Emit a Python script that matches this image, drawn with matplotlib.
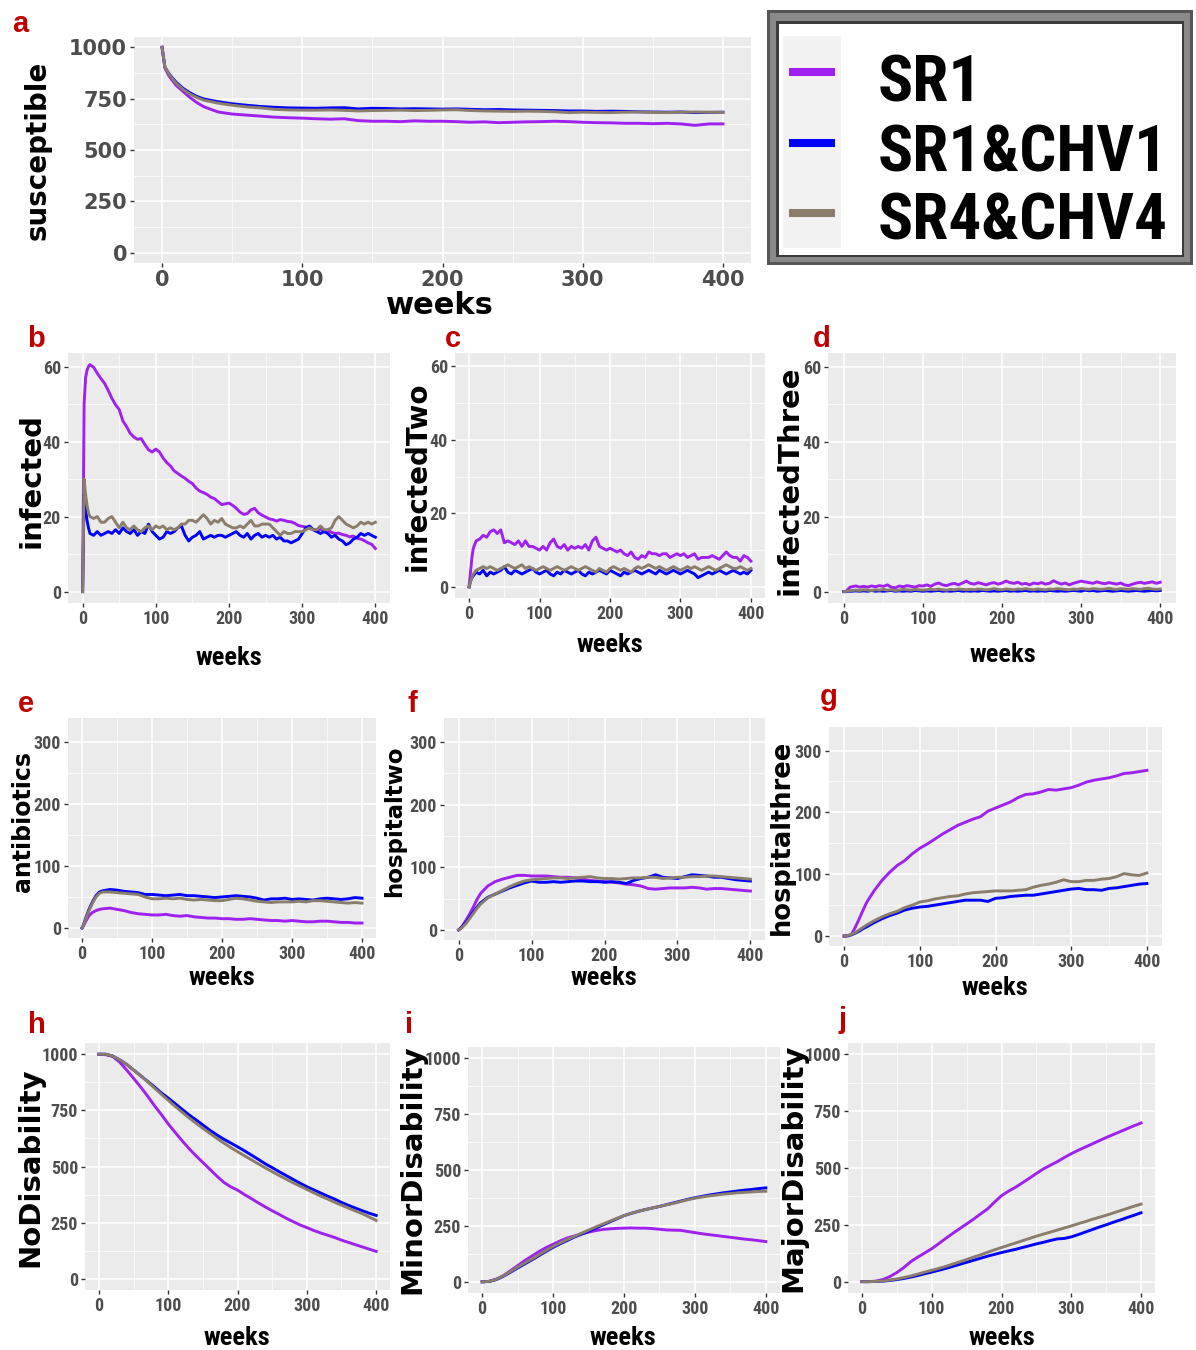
import matplotlib
matplotlib.use("Agg")
import matplotlib.pyplot as plt
from matplotlib.ticker import MultipleLocator
from matplotlib.patches import Rectangle

# -----------------------------
# 1. Data
# -----------------------------
weeks_fine = [0, 2, 4, 6, 8] + list(range(10, 401, 5))
weeks_mid = [0, 2, 5, 10, 15, 20, 25, 30] + list(range(40, 401, 10))
weeks_smooth = list(range(0, 401, 10))

scenarios = ["SR1", "SR1&CHV1", "SR4&CHV4"]
colors = ["#a020f0", "#0000ff", "#8b7d6b"]

# susceptible (weeks_mid)
susceptible_sr1 = [1000, 900, 860, 815, 785, 755, 730, 710,
                   685, 675, 670, 665, 660, 657, 655, 652, 650, 652,
                   643, 640, 640, 638, 642, 640, 640, 638, 635, 637,
                   633, 635, 637, 638, 640, 638, 635, 633, 632, 630,
                   630, 628, 630, 627, 620, 627, 627]
susceptible_chv1 = [1000, 905, 870, 830, 800, 778, 760, 748,
                    735, 725, 718, 712, 708, 705, 704, 703, 705, 706,
                    700, 703, 702, 700, 701, 700, 699, 700, 698, 696,
                    697, 695, 694, 693, 692, 690, 690, 688, 689, 688,
                    686, 685, 684, 685, 682, 683, 684]
susceptible_chv4 = [1000, 905, 868, 825, 795, 772, 755, 742,
                    728, 718, 710, 705, 698, 695, 694, 694, 695, 693,
                    690, 692, 693, 694, 692, 693, 695, 696, 692, 690,
                    689, 688, 689, 688, 686, 682, 684, 683, 682, 684,
                    685, 683, 682, 684, 685, 684, 683]

# infected (weeks_fine)
infected_sr1 = [0, 50, 57, 59, 60,
                60.5, 59.8, 58.2, 56.8, 55.5, 53.6, 51.5, 49.8, 48.5, 45.5,
                44, 42.2, 41.2, 40.6, 40.8, 39.2, 37.8, 37.2, 38, 37.2,
                35.6, 34.4, 33.5, 32.2, 31.5, 30.8, 30.2, 29.4, 28.8, 27.6,
                26.8, 26.4, 25.9, 25.2, 24.8, 24, 23.2, 23.4, 23.6, 23,
                22.2, 21.2, 20.6, 20.8, 21.8, 22.2, 21, 20.4, 19.9, 19.4,
                19.2, 18.8, 19.2, 19, 18.7, 18.6, 18.2, 17.6, 17.4, 17.2,
                16.8, 16.6, 16.4, 16.6, 16.2, 16.4, 15.8, 15.5, 15.6, 15.2,
                15, 14.6, 14.8, 14.2, 14, 13.6, 13, 12.6, 11.5]
infected_chv1 = [0, 26, 22, 19, 17,
                 15.5, 15, 16, 15, 15.5, 16, 15.5, 16.5, 15.5, 17,
                 16, 15.5, 16.5, 15, 16, 15.5, 18, 16, 15, 14,
                 14.5, 16, 15.5, 16, 17, 17.5, 15, 13.5, 14.5, 15,
                 16, 14, 14.5, 15, 14.5, 15, 15, 14.5, 15, 15.5,
                 16, 15, 14.5, 15.5, 14, 15, 15.5, 14.5, 15, 14.5,
                 15, 14, 14.5, 13.5, 13.5, 13, 13.5, 14, 15.5, 17,
                 17.5, 16.5, 16, 15.5, 16, 15.5, 14.5, 15, 14, 13.5,
                 12.5, 13, 14, 14.5, 15.5, 15, 15.5, 15, 14.5]
infected_chv4 = [0, 30, 26, 23, 21,
                 20, 19.5, 20, 18.5, 18.5, 19.5, 20, 18.5, 17, 18.5,
                 17, 16.5, 17.5, 16.5, 16, 17, 17.5, 16.5, 17.5, 17,
                 17.5, 16.5, 17, 16.5, 17, 18, 18, 19, 19, 18.5,
                 19.5, 20.5, 19.5, 18, 19, 18.5, 19.5, 18, 17.5, 17,
                 17, 17.5, 17, 18, 19, 17.5, 17.5, 18, 18, 18,
                 17, 16, 15, 16, 15.5, 15.5, 16, 16, 16, 16.5,
                 17, 16.5, 16.5, 17.5, 16.5, 16.5, 17, 19, 20, 19,
                 18, 17.5, 17, 17.5, 18.5, 18, 18.5, 18, 18.5]

# infectedTwo (weeks_fine)
infected_two_sr1 = [0, 4, 8, 10.5, 11.5,
                    12.5, 13, 14, 13.5, 15, 15.5, 14.5, 15.5, 12, 12.5,
                    12, 11.5, 12.5, 11, 12.5, 11, 11, 10.5, 10, 11,
                    10, 12, 13, 11, 10.5, 11.5, 10, 11, 10.5, 11,
                    10.5, 11.5, 10, 12.5, 13.5, 11, 10.5, 10, 10.5, 10,
                    9.5, 10, 9, 8.5, 9.5, 8, 7.5, 8.5, 8, 9.5,
                    9, 9, 8.5, 9, 9, 8, 8.5, 9, 8.5, 9,
                    8, 8.5, 9, 7.5, 8, 8, 8, 8.5, 8, 7.5,
                    8.5, 9.5, 8.5, 8, 8, 7, 8.5, 8, 7]
infected_two_chv1 = [0, 1.5, 2.5, 3, 3.5,
                     4, 3.5, 4.5, 3, 4, 3.5, 4, 4.5, 5.5, 4,
                     3.5, 4.5, 4, 3.5, 4, 4.5, 5, 4, 3.5, 4,
                     4.5, 3.5, 3, 4, 3.5, 4.5, 4, 3.5, 4, 4.5,
                     3.5, 3, 4, 3.5, 4, 4.5, 4, 3.5, 4.5, 4,
                     3.5, 3, 4, 3.5, 4, 4.5, 4, 3.5, 4, 4.5,
                     4, 3.5, 4.5, 4, 3.5, 4, 4.5, 4, 3.5, 4,
                     4.5, 4, 3.5, 2.5, 3, 3.5, 4, 3.5, 4, 4.5,
                     4, 3.5, 4, 4.5, 4, 3.5, 4, 3.5, 4.5]
infected_two_chv4 = [0, 1.5, 2.5, 3.5, 4,
                     4.5, 5, 5.5, 5, 5.5, 5, 4.5, 5, 5.5, 6,
                     5.5, 5, 5.5, 6, 5, 5.5, 5, 4.5, 5, 5.5,
                     5, 4.5, 5, 5.5, 5, 4.5, 5, 5.5, 5, 4.5,
                     5, 5.5, 5, 4.5, 4, 5, 4.5, 4, 5, 5.5,
                     5, 4.5, 5, 4.5, 4, 5, 5.5, 5, 5.5, 6,
                     5.5, 5, 5.5, 5, 4.5, 5, 5.5, 5, 4.5, 5,
                     5.5, 5, 5.5, 5, 4.5, 5, 5.5, 5, 4.5, 5,
                     5.5, 6, 5.5, 5, 5, 5.5, 5, 4.5, 5]

# infectedThree (weeks_fine)
infected_three_sr1 = [0, 0, 0.3, 0.8, 1.2,
                      1.3, 1.5, 1.2, 1.4, 1.2, 1.5, 1.3, 1.6, 1.4, 1.8,
                      1.2, 1, 1.5, 1.3, 1.6, 1.4, 1.2, 1.6, 1.5, 1.8,
                      1.4, 2, 2.3, 1.8, 1.6, 2, 2.2, 1.8, 2.3, 2.8,
                      2.2, 2, 2.4, 2.1, 1.8, 2.2, 2.4, 2, 2.3, 2.8,
                      2.4, 2.2, 2.5, 2, 2.2, 1.8, 2.3, 2.1, 2.4, 2,
                      2.2, 2.9, 2.4, 2, 2.3, 1.8, 2.2, 2.5, 2.8, 2.6,
                      2.4, 2.2, 2.6, 2.3, 2.1, 2.4, 2.2, 2, 2.3, 1.8,
                      1.6, 2, 2.3, 2.5, 2.2, 2.4, 2.6, 2.2, 2.5]
infected_three_chv1 = [0, 0, 0, 0.1, 0.1,
                       0.1, 0.2, 0.1, 0.2, 0.1, 0.3, 0.1, 0.2, 0.1, 0.2,
                       0.3, 0.1, 0.2, 0.1, 0.2, 0.1, 0.3, 0.2, 0.1, 0.2,
                       0.1, 0.2, 0.3, 0.1, 0.2, 0.1, 0.2, 0.3, 0.1, 0.2,
                       0.1, 0.2, 0.1, 0.3, 0.2, 0.1, 0.2, 0.1, 0.2, 0.3,
                       0.1, 0.2, 0.1, 0.2, 0.3, 0.1, 0.2, 0.1, 0.2, 0.1,
                       0.3, 0.2, 0.1, 0.2, 0.1, 0.2, 0.3, 0.2, 0.1, 0.4,
                       0.2, 0.3, 0.1, 0.2, 0.3, 0.2, 0.1, 0.2, 0.3, 0.2,
                       0.1, 0.2, 0.3, 0.2, 0.1, 0.2, 0.3, 0.2, 0.3]
infected_three_chv4 = [0, 0, 0.1, 0.2, 0.3,
                       0.3, 0.4, 0.3, 0.5, 0.4, 0.3, 0.5, 0.4, 0.6, 0.4,
                       0.5, 0.3, 0.4, 0.6, 0.5, 0.4, 0.6, 0.5, 0.4, 0.5,
                       0.6, 0.5, 0.7, 0.5, 0.4, 0.6, 0.5, 0.7, 0.6, 0.5,
                       0.6, 0.5, 0.7, 0.6, 0.5, 0.6, 0.8, 0.6, 0.5, 0.7,
                       0.6, 0.5, 0.7, 0.6, 0.8, 0.6, 0.5, 0.7, 0.6, 0.5,
                       0.7, 0.6, 0.8, 0.7, 0.6, 0.5, 0.7, 0.6, 0.8, 0.7,
                       0.6, 0.8, 0.7, 0.6, 0.7, 0.9, 0.7, 0.6, 0.8, 0.7,
                       0.6, 0.8, 0.7, 0.6, 0.8, 0.9, 0.7, 0.6, 0.7]

# antibiotics (weeks_mid)
antibiotics_sr1 = [0, 3, 10, 20, 25, 28, 30, 31,
                   32, 30, 28, 25, 23, 22, 21, 21, 22, 20,
                   19, 20, 18, 17, 16, 16, 15, 15, 14, 14,
                   15, 14, 13, 12, 12, 11, 12, 11, 10, 10,
                   11, 11, 10, 9, 9, 8, 8]
antibiotics_chv1 = [0, 5, 15, 30, 42, 52, 58, 60,
                    62, 61, 59, 58, 57, 54, 54, 53, 52, 53,
                    54, 52, 52, 51, 50, 49, 50, 51, 52, 51,
                    50, 48, 45, 47, 47, 48, 46, 47, 46, 45,
                    47, 48, 47, 46, 47, 49, 48]
antibiotics_chv4 = [0, 4, 13, 28, 40, 50, 56, 58,
                    58, 57, 56, 55, 54, 50, 47, 47, 48, 47,
                    48, 46, 45, 46, 45, 44, 44, 46, 48, 47,
                    45, 43, 42, 41, 42, 42, 42, 43, 42, 44,
                    44, 43, 42, 41, 40, 41, 40]

# hospitaltwo (weeks_mid)
hospital_two_sr1 = [0, 2, 6, 15, 25, 36, 48, 58,
                    70, 77, 81, 84, 87, 87, 86, 86, 86, 85,
                    84, 84, 83, 81, 79, 78, 77, 76, 75, 73,
                    72, 70, 66, 65, 66, 67, 67, 67, 68, 67,
                    65, 66, 66, 65, 64, 63, 62]
hospital_two_chv1 = [0, 2, 5, 12, 20, 28, 36, 43,
                     52, 57, 62, 67, 71, 75, 78, 76, 76, 77,
                     76, 77, 78, 78, 77, 77, 76, 77, 76, 74,
                     79, 82, 84, 88, 84, 83, 82, 85, 88, 87,
                     86, 84, 84, 82, 80, 79, 78]
hospital_two_chv4 = [0, 1, 4, 10, 18, 26, 34, 41,
                     51, 57, 63, 69, 74, 78, 80, 81, 82, 83,
                     83, 82, 83, 84, 85, 83, 82, 82, 81, 82,
                     83, 83, 84, 84, 82, 83, 84, 84, 85, 85,
                     86, 86, 85, 84, 83, 82, 81]

# hospitalthree (weeks_mid)
hospital_three_sr1 = [0, 0, 0, 3, 15, 28, 42, 55,
                      74, 90, 103, 114, 122, 133, 142, 149, 157, 165,
                      172, 179, 184, 189, 193, 202, 207, 212, 217, 224,
                      229, 230, 233, 237, 236, 238, 240, 244, 249, 252,
                      254, 256, 259, 263, 264, 266, 268]
hospital_three_chv1 = [0, 0, 1, 2, 5, 8, 12, 15,
                       22, 28, 33, 37, 42, 45, 47, 48, 50, 52,
                       54, 56, 58, 58, 58, 56, 61, 62, 64, 65,
                       66, 66, 68, 70, 72, 74, 76, 77, 75, 75,
                       74, 77, 78, 80, 82, 84, 85]
hospital_three_chv4 = [0, 0, 1, 3, 6, 10, 14, 18,
                       25, 31, 36, 40, 46, 50, 55, 57, 60, 62,
                       64, 65, 68, 70, 71, 72, 73, 73, 73, 74,
                       75, 79, 82, 84, 87, 91, 88, 88, 90, 90,
                       92, 93, 96, 101, 99, 98, 102]

# NoDisability (weeks_smooth)
no_disability_sr1 = [1000, 998, 990, 965, 930, 893, 855, 815, 772, 732,
                     690, 652, 615, 580, 548, 518, 488, 458, 430, 410,
                     395, 375, 357, 338, 320, 303, 287, 270, 255, 240,
                     228, 215, 204, 194, 184, 172, 162, 152, 142, 132,
                     122]
no_disability_chv1 = [1000, 1000, 992, 975, 955, 930, 905, 880, 855, 828,
                      805, 780, 755, 730, 708, 685, 662, 641, 622, 605,
                      588, 570, 551, 532, 512, 495, 477, 460, 443, 426,
                      410, 396, 382, 368, 355, 340, 327, 315, 303, 292,
                      282]
no_disability_chv4 = [1000, 1000, 992, 975, 955, 930, 905, 878, 850, 822,
                      795, 768, 742, 717, 693, 670, 648, 626, 605, 585,
                      566, 548, 530, 512, 494, 477, 460, 444, 428, 413,
                      398, 383, 368, 355, 341, 328, 315, 302, 290, 275,
                      260]

# MinorDisability (weeks_smooth)
minor_disability_sr1 = [0, 2, 12, 28, 50, 72, 95, 115, 135, 153,
                        168, 183, 196, 205, 214, 222, 229, 234, 237, 239,
                        240, 241, 240, 240, 238, 235, 232, 231, 230, 225,
                        220, 215, 211, 207, 203, 199, 195, 191, 188, 184,
                        180]
minor_disability_chv1 = [0, 2, 10, 25, 43, 62, 80, 98, 117, 136,
                         154, 170, 185, 200, 213, 226, 240, 254, 268, 282,
                         296, 306, 315, 323, 330, 337, 345, 353, 361, 369,
                         376, 382, 388, 393, 398, 402, 406, 410, 413, 417,
                         420]
minor_disability_chv4 = [0, 2, 11, 27, 46, 66, 84, 102, 121, 140,
                         158, 174, 189, 203, 217, 231, 245, 258, 271, 284,
                         296, 306, 315, 323, 330, 337, 344, 351, 359, 367,
                         374, 379, 384, 388, 392, 395, 398, 400, 402, 404,
                         405]

# MajorDisability (weeks_smooth)
major_disability_sr1 = [0, 0, 2, 9, 22, 40, 62, 88, 108, 126,
                        145, 167, 190, 212, 233, 254, 275, 298, 320, 350,
                        378, 398, 415, 435, 455, 476, 496, 512, 528, 546,
                        563, 578, 592, 606, 620, 634, 647, 660, 673, 686,
                        698]
major_disability_chv1 = [0, 0, 1, 2, 5, 9, 14, 20, 27, 35,
                         42, 50, 58, 67, 76, 85, 94, 103, 112, 120,
                         128, 135, 142, 150, 158, 166, 173, 181, 188, 190,
                         197, 207, 218, 229, 240, 250, 261, 271, 282, 292,
                         303]
major_disability_chv4 = [0, 0, 1, 3, 7, 12, 18, 25, 33, 42,
                         50, 58, 67, 77, 87, 97, 108, 118, 129, 140,
                         150, 160, 170, 180, 190, 200, 209, 218, 227, 236,
                         245, 255, 264, 274, 283, 292, 302, 312, 322, 332,
                         341]

# -----------------------------
# 2. Figure setup
# -----------------------------
W, H = 1196, 1350
fig = plt.figure(figsize=(W / 100, H / 100), dpi=100)

NARROW = ["Roboto Condensed", "DejaVu Sans"]
WIDE = ["DejaVu Sans"]
TICK_GREY = "#4d4d4d"
PANEL_BG = "#ebebeb"
LETTER_RED = "#c00000"

# panel boxes are (left, top, right, bottom) in pixels
panels = [
    dict(letter="a", box=(134, 37, 751, 263), ylabel="susceptible", ysize=20,
         weeks=weeks_mid, series=[susceptible_sr1, susceptible_chv1, susceptible_chv4],
         ylim=(-50, 1050), yticks=[0, 250, 500, 750, 1000], yminor=125,
         ylab_at=(46, 150), xlab_at=(440, 314), letter_at=(12, 32), wide=True),
    dict(letter="b", box=(68, 353, 390, 603), ylabel="infected", ysize=21,
         weeks=weeks_fine, series=[infected_sr1, infected_chv1, infected_chv4],
         ylim=(-3.03, 63.6), yticks=[0, 20, 40, 60], yminor=10,
         ylab_at=(39, 480), xlab_at=(229, 665), letter_at=(27, 347)),
    dict(letter="c", box=(455, 353, 765, 598), ylabel="infectedTwo", ysize=20,
         weeks=weeks_fine, series=[infected_two_sr1, infected_two_chv1, infected_two_chv4],
         ylim=(-3.03, 63.6), yticks=[0, 20, 40, 60], yminor=10,
         ylab_at=(426, 476), xlab_at=(610, 652), letter_at=(445, 347)),
    dict(letter="d", box=(828, 353, 1176, 603), ylabel="infectedThree", ysize=21,
         weeks=weeks_fine, series=[infected_three_sr1, infected_three_chv1, infected_three_chv4],
         ylim=(-3.03, 63.6), yticks=[0, 20, 40, 60], yminor=10,
         ylab_at=(798, 480), xlab_at=(1003, 662), letter_at=(813, 347)),
    dict(letter="e", box=(68, 718, 376, 938), ylabel="antibiotics", ysize=17,
         weeks=weeks_mid, series=[antibiotics_sr1, antibiotics_chv1, antibiotics_chv4],
         ylim=(-16.1, 338.1), yticks=[0, 100, 200, 300], yminor=50,
         ylab_at=(30, 822), xlab_at=(222, 985), letter_at=(18, 712)),
    dict(letter="f", box=(444, 718, 765, 940), ylabel="hospitaltwo", ysize=16.5,
         weeks=weeks_mid, series=[hospital_two_sr1, hospital_two_chv1, hospital_two_chv4],
         ylim=(-16.1, 338.1), yticks=[0, 100, 200, 300], yminor=50,
         ylab_at=(401, 821), xlab_at=(604, 985), letter_at=(408, 712)),
    dict(letter="g", box=(829, 727, 1162, 946), ylabel="hospitalthree", ysize=18.5,
         weeks=weeks_mid, series=[hospital_three_sr1, hospital_three_chv1, hospital_three_chv4],
         ylim=(-16.1, 338.1), yticks=[0, 100, 200, 300], yminor=50,
         ylab_at=(789, 837), xlab_at=(995, 995), letter_at=(820, 705)),
    dict(letter="h", box=(85, 1043, 390, 1290), ylabel="NoDisability", ysize=21,
         weeks=weeks_smooth, series=[no_disability_sr1, no_disability_chv1, no_disability_chv4],
         ylim=(-50, 1050), yticks=[0, 250, 500, 750, 1000], yminor=125,
         ylab_at=(38, 1167), xlab_at=(237, 1345), letter_at=(28, 1033)),
    dict(letter="i", box=(468, 1047, 780, 1293), ylabel="MinorDisability", ysize=21,
         weeks=weeks_smooth, series=[minor_disability_sr1, minor_disability_chv1, minor_disability_chv4],
         ylim=(-50, 1050), yticks=[0, 250, 500, 750, 1000], yminor=125,
         ylab_at=(420, 1169), xlab_at=(623, 1345), letter_at=(405, 1033)),
    dict(letter="j", box=(848, 1043, 1155, 1293), ylabel="MajorDisability", ysize=21,
         weeks=weeks_smooth, series=[major_disability_sr1, major_disability_chv1, major_disability_chv4],
         ylim=(-50, 1050), yticks=[0, 250, 500, 750, 1000], yminor=125,
         ylab_at=(801, 1168), xlab_at=(1002, 1345), letter_at=(838, 1028)),
]

# -----------------------------
# 3. Panels
# -----------------------------
for p in panels:
    x0, y0, x1, y1 = p["box"]
    ax = fig.add_axes([x0 / W, 1 - y1 / H, (x1 - x0) / W, (y1 - y0) / H])
    ax.set_facecolor(PANEL_BG)

    for vals, col in zip(p["series"], colors):
        ax.plot(p["weeks"], vals, color=col, lw=2.1, solid_joinstyle="round")

    ax.set_xlim(-20, 420)
    ax.set_ylim(*p["ylim"])
    ax.set_xticks([0, 100, 200, 300, 400])
    ax.set_yticks(p["yticks"])
    ax.xaxis.set_minor_locator(MultipleLocator(50))
    ax.yaxis.set_minor_locator(MultipleLocator(p["yminor"]))
    ax.grid(which="major", color="white", lw=1.1)
    ax.grid(which="minor", color="white", lw=0.5)
    ax.set_axisbelow(True)
    for s in ax.spines.values():
        s.set_visible(False)
    ax.tick_params(which="major", length=3, width=1, color="#333333",
                   pad=2, labelcolor=TICK_GREY)
    ax.tick_params(which="minor", length=0)

    wide = p.get("wide", False)
    for lab in ax.get_xticklabels() + ax.get_yticklabels():
        lab.set_fontfamily(WIDE if wide else NARROW)
        lab.set_fontsize(15 if wide else 13)
        lab.set_fontweight("bold")

    # axis titles placed by their baselines
    xl_x, xl_y = p["xlab_at"]
    ax.set_xlabel("weeks", fontsize=22 if wide else 19, fontweight="bold",
                  family=WIDE if wide else NARROW, va="baseline")
    ax.xaxis.set_label_coords((xl_x - x0) / (x1 - x0), (y1 - xl_y) / (y1 - y0))

    yl_x, yl_y = p["ylab_at"]
    ax.set_ylabel(p["ylabel"], fontsize=p["ysize"], fontweight="bold",
                  family=WIDE, va="baseline")
    ax.yaxis.set_label_coords((yl_x - x0) / (x1 - x0), (y1 - yl_y) / (y1 - y0))

    lx, ly = p["letter_at"]
    fig.text(lx / W, 1 - ly / H, p["letter"], color=LETTER_RED, fontsize=21,
             fontweight="bold", family=["Liberation Sans", "DejaVu Sans"],
             ha="left", va="baseline")

# -----------------------------
# 4. Legend box (pixel canvas)
# -----------------------------
leg = fig.add_axes([0, 0, 1, 1])
leg.set_xlim(0, W)
leg.set_ylim(H, 0)
leg.axis("off")

leg.add_patch(Rectangle((767, 10), 426, 255, fc="#555555", ec="none"))
leg.add_patch(Rectangle((770, 13), 420, 249, fc="#8a8a8a", ec="none"))
leg.add_patch(Rectangle((776, 21), 408, 236, fc="#3c3c3c", ec="none"))
leg.add_patch(Rectangle((779, 24), 403, 231, fc="white", ec="none"))
leg.add_patch(Rectangle((783, 36), 58, 212, fc="#f2f2f2", ec="none"))

key_rows = [72, 143, 213]
text_base = [101, 171, 239]
for name, col, ky, tb in zip(scenarios, colors, key_rows, text_base):
    leg.plot([789, 835], [ky, ky], color=col, lw=5.8, solid_capstyle="butt")
    leg.text(878, tb, name, fontsize=47, fontweight="bold", family=NARROW,
             ha="left", va="baseline", color="black")

fig.savefig("out.png", dpi=100)
